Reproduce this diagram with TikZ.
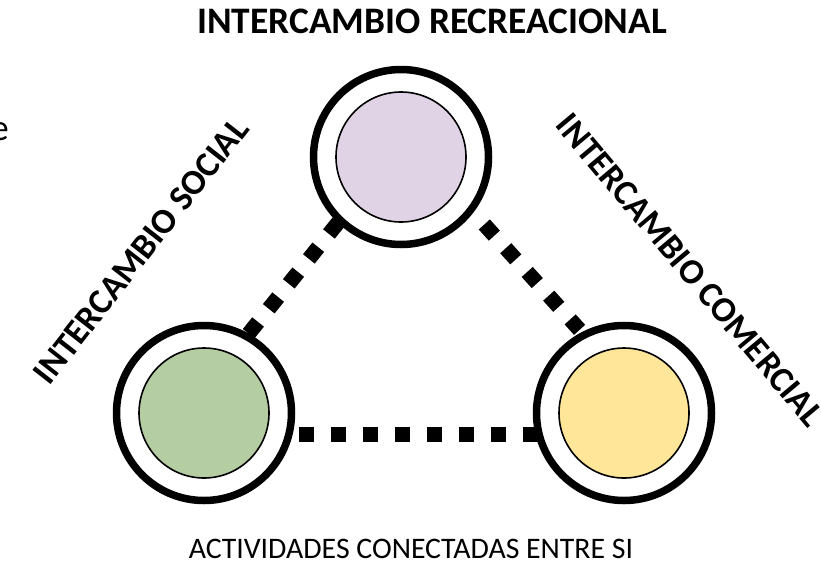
\documentclass[tikz,border=0pt]{standalone}
\usepackage{fontspec}
\setmainfont{Carlito}
\usepackage{xcolor}
\usepackage{tikz}
\usetikzlibrary{calc}
\definecolor{lilacFill}{RGB}{225,211,230}
\definecolor{sageFill}{RGB}{181,205,163}
\definecolor{honeyFill}{RGB}{255,230,153}

\begin{document}
\begin{tikzpicture}[x=1pt, y=-1pt,
		ring/.style={circle, draw=black, line width=7.5pt, minimum size=175pt, inner sep=0pt, outer sep=0pt},
		core/.style={circle, draw=black, line width=1.6pt, minimum size=130pt, inner sep=0pt},
		dotLink/.style={line width=15pt, dash pattern=on 15pt off 17pt},
		bigTitle/.style={font=\fontsize{37.4}{40}\selectfont\bfseries, inner sep=0pt},
		sideTitle/.style={font=\fontsize{35.5}{40}\selectfont\bfseries, inner sep=0pt}]
		\useasboundingbox (0,0) rectangle (821,565);
		% circles
		\node [ring] (recreo) at (401,157) {};
		\node [core, fill=lilacFill] (recreoIn) at (401,157) {};
		\node [ring] (social) at (204,413) {};
		\node [core, fill=sageFill] (socialIn) at (204,413) {};
		\node [ring] (comercio) at (624,413) {};
		\node [core, fill=honeyFill] (comercioIn) at (624,413) {};
		% links
		\draw [dotLink, shorten <=3pt, shorten >=3pt] (recreo.226) -- (social.61);
		\draw [dotLink, shorten <=20pt, shorten >=7pt] (recreo.-37.6) -- (comercio.117);
		\draw [dotLink, shorten <=10pt, shorten >=1pt] (social.-14) -- (comercio.194);
		% labels
		\node [bigTitle] (tRecreo) at (432,21) {INTERCAMBIO RECREACIONAL};
		\node [sideTitle, rotate=52] (tSocial) at (141,251) {INTERCAMBIO SOCIAL};
		\node [sideTitle, rotate=-50] (tComercio) at (690,270) {INTERCAMBIO COMERCIAL};
		\node [font=\fontsize{29.8}{32}\selectfont, inner sep=0pt] (tPie) at (411,549) {ACTIVIDADES CONECTADAS ENTRE SI};
		\node [font=\fontsize{37}{40}\selectfont, inner sep=0pt, anchor=base east] (tResto) at (9,140) {e};
\end{tikzpicture}
\end{document}
